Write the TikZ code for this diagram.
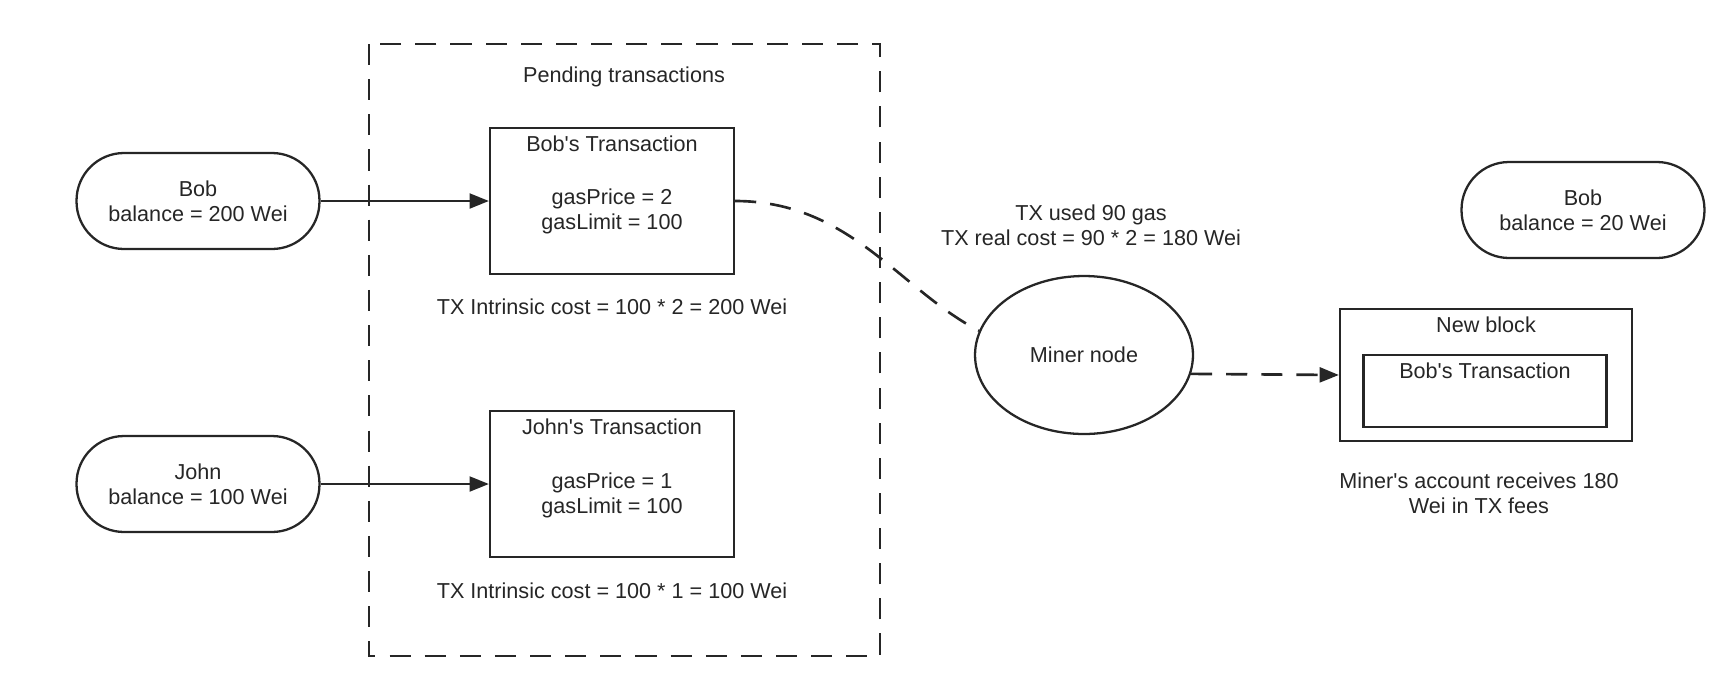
\documentclass[tikz,border=0pt]{standalone}
\usepackage{fontspec}
\setmainfont{Liberation Sans}
\usetikzlibrary{arrows.meta,shapes.geometric}

\begin{document}
\begin{tikzpicture}[x=0.02cm, y=-0.02cm, line width=1.3pt, color=black!85,
    font=\fontsize{12.3}{14.2}\selectfont,
    account/.style={draw, rounded corners=0.95cm, minimum width=4.86cm, minimum height=1.92cm, align=center, inner sep=0pt},
    txbox/.style={draw, minimum width=4.88cm, minimum height=2.92cm, inner sep=0pt},
    txt/.style={align=center, inner sep=0pt},
    longdash/.style={line width=1.5pt, dash pattern=on 12pt off 8pt},
    tip/.style={-{Triangle[length=11pt,width=8.5pt]}}]
                \useasboundingbox (0,0) rectangle (1722,684);
                \draw [longdash] (369,44) rectangle (880,656);
                \node [txt] (pending) at (624,77) {Pending transactions};
                \node [account] (bob) at (198,201) {Bob\\balance = 200 Wei};
                \node [account] (john) at (198,484) {John\\balance = 100 Wei};
                \node [txbox] (bobtx) at (612,201) {};
                \node [txt] (bobtxtitle) at (612,144) {Bob\textquotesingle s Transaction};
                \node [txt] (bobtxgas) at (612,211) {gasPrice = 2\\gasLimit = 100};
                \node [txt] (bobcost) at (612,307) {TX Intrinsic cost = 100 * 2 = 200 Wei};
                \node [txbox] (johntx) at (612,484) {};
                \node [txt] (johntxtitle) at (612,427) {John\textquotesingle s Transaction};
                \node [txt] (johntxgas) at (612,495) {gasPrice = 1\\gasLimit = 100};
                \node [txt] (johncost) at (612,591) {TX Intrinsic cost = 100 * 1 = 100 Wei};
                \draw [tip] (bob.east) -- (bobtx.west);
                \draw [tip] (john.east) -- (johntx.west);
                \node [draw, ellipse, minimum width=4.36cm, minimum height=3.16cm, inner sep=0pt] (miner) at (1084,355) {Miner node};
                \node [txt] (realcost) at (1091,225.5) {TX used 90 gas\\TX real cost = 90 * 2 = 180 Wei};
                \draw [longdash] (bobtx.east) .. controls (850,201) and (900,290) .. (miner.167);
                \node [account] (bobafter) at (1583,210) {Bob\\balance = 20 Wei};
                \node [draw, minimum width=5.84cm, minimum height=2.64cm, inner sep=0pt] (block) at (1486,375) {};
                \node [txt] (blocktitle) at (1486,325) {New block};
                \node [draw, minimum width=4.86cm, minimum height=1.44cm, inner sep=0pt] (blocktx) at (1485,391) {};
                \node [txt] (blocktxtitle) at (1485,371) {Bob\textquotesingle s Transaction};
                \draw [longdash, tip] (miner.350) -- (block.west);
                \node [txt] (fees) at (1479,493) {Miner\textquotesingle s account receives 180\\Wei in TX fees};
            \end{tikzpicture}
\end{document}
